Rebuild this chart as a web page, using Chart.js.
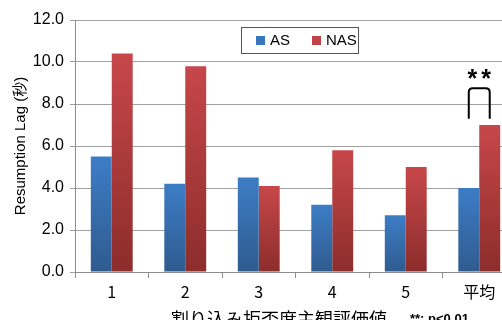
<!DOCTYPE html>
<html>
<head>
<meta charset="utf-8">
<script src="https://cdn.jsdelivr.net/npm/chart.js@4/dist/chart.umd.min.js"></script>
<style>
  html, body { margin: 0; padding: 0; background: #fff; overflow: hidden; }
  #wrap { width: 502px; height: 320px; overflow: hidden; }
</style>
</head>
<body>
<div id="wrap"><canvas id="lagChart" width="520" height="334"></canvas></div>
<script>
// 主観評価値ごとの Resumption Lag 平均 (秒)
var categories = ["1", "2", "3", "4", "5", "平均"];
var asValues  = [5.5, 4.2, 4.5, 3.2, 2.7, 4.0];
var nasValues = [10.4, 9.8, 4.1, 5.8, 5.0, 7.0];
var yTicks = [0, 2, 4, 6, 8, 10, 12];

// 有意差ブラケット (平均の列)
var sigIndex = 5;
var sigLow = 7.3, sigHigh = 8.75, sigMark = "**";
var sigNote = "**: p<0.01";
var xTitle = "割り込み拒否度主観評価値";

var FONT = "'Liberation Sans', 'Noto Sans CJK JP', sans-serif";
var JP_FONT = "'Noto Sans CJK JP', 'Liberation Sans', sans-serif";

function barGradient(top, bottom) {
  return function (ctx) {
    var chart = ctx.chart;
    var y = chart.scales && chart.scales.y;
    if (!y || ctx.raw === undefined) return top;
    var y0 = y.getPixelForValue(ctx.raw), y1 = y.getPixelForValue(0);
    if (!isFinite(y0) || !isFinite(y1) || y0 === y1) return top;
    var g = chart.ctx.createLinearGradient(0, y0, 0, y1);
    g.addColorStop(0, top);
    g.addColorStop(1, bottom);
    return g;
  };
}

var boxLegend = {
  id: "boxLegend",
  afterDraw: function (chart) {
    var c = chart.ctx, a = chart.chartArea;
    var x = a.left + 166, y = a.top + 7, w = 117, h = 26;
    c.save();
    c.fillStyle = "#fff";
    c.fillRect(x, y, w, h);
    c.strokeStyle = "#555";
    c.lineWidth = 1;
    c.strokeRect(x + 0.5, y + 0.5, w, h);
    c.font = "15px " + FONT;
    c.textBaseline = "middle";
    var sw = [[x + 15, "#3a76bd"], [x + 71, "#c0434a"]];
    chart.data.datasets.forEach(function (ds, i) {
      c.fillStyle = sw[i][1];
      c.fillRect(sw[i][0], y + 9, 9, 9);
      c.fillStyle = "#000";
      c.fillText(ds.label, sw[i][0] + 14, y + 14);
    });
    c.restore();
  }
};

var sigBracket = {
  id: "sigBracket",
  afterDatasetsDraw: function (chart) {
    var c = chart.ctx, ys = chart.scales.y;
    var xa = chart.getDatasetMeta(0).data[sigIndex].x;
    var xb = chart.getDatasetMeta(1).data[sigIndex].x;
    var yl = ys.getPixelForValue(sigLow), yh = ys.getPixelForValue(sigHigh);
    var r = 4;
    c.save();
    c.strokeStyle = "#000";
    c.lineWidth = 2;
    c.beginPath();
    c.moveTo(xa, yl);
    c.lineTo(xa, yh + r);
    c.quadraticCurveTo(xa, yh, xa + r, yh);
    c.lineTo(xb - r, yh);
    c.quadraticCurveTo(xb, yh, xb, yh + r);
    c.lineTo(xb, yl);
    c.stroke();
    c.fillStyle = "#000";
    c.font = "bold 25px " + FONT;
    c.letterSpacing = "4px";
    c.textAlign = "center";
    c.textBaseline = "alphabetic";
    c.fillText(sigMark, (xa + xb) / 2 + 2, ys.getPixelForValue(8.8));
    c.restore();
  }
};

var bottomTexts = {
  id: "bottomTexts",
  afterDraw: function (chart) {
    var c = chart.ctx, a = chart.chartArea;
    c.save();
    c.fillStyle = "#000";
    c.textBaseline = "top";
    c.font = "18px " + JP_FONT;
    c.textAlign = "center";
    c.fillText(xTitle, a.left + 204, a.bottom + 38);
    c.font = "bold 13px " + FONT;
    c.textAlign = "left";
    c.fillText(sigNote, a.left + 335, a.bottom + 41);
    c.restore();
  }
};

new Chart(document.getElementById("lagChart"), {
  type: "bar",
  data: {
    labels: categories,
    datasets: [
      { label: "AS", data: asValues, backgroundColor: barGradient("#3d7dc6", "#2f5b8f") },
      { label: "NAS", data: nasValues, backgroundColor: barGradient("#c7474a", "#8c2d2b") }
    ]
  },
  options: {
    responsive: false,
    animation: false,
    layout: { autoPadding: false, padding: { top: 20, right: 4, left: 0, bottom: 0 } },
    datasets: { bar: { categoryPercentage: 0.57, barPercentage: 1.0 } },
    plugins: { legend: { display: false }, tooltip: { enabled: false } },
    scales: {
      x: {
        afterFit: function (s) { s.height = 62; },
        grid: { drawOnChartArea: false, offset: true, tickLength: 6, color: "#8c8c8c" },
        border: { color: "#8c8c8c" },
        ticks: { color: "#000", font: { size: 16, family: JP_FONT }, padding: 4 }
      },
      y: {
        min: 0, max: 12,
        afterFit: function (s) { s.width = 75; },
        afterBuildTicks: function (s) { s.ticks = yTicks.map(function (v) { return { value: v }; }); },
        grid: { color: "#a0a0a0", tickLength: 5 },
        border: { color: "#8c8c8c" },
        ticks: {
          color: "#000", padding: 6,
          font: { size: 16, family: FONT },
          callback: function (v) { return v.toFixed(1); }
        },
        title: {
          display: true, text: "Resumption Lag (秒)", color: "#000",
          font: { size: 15, family: FONT }, padding: { top: 12, bottom: 0 }
        }
      }
    }
  },
  plugins: [boxLegend, sigBracket, bottomTexts]
});
</script>
</body>
</html>
